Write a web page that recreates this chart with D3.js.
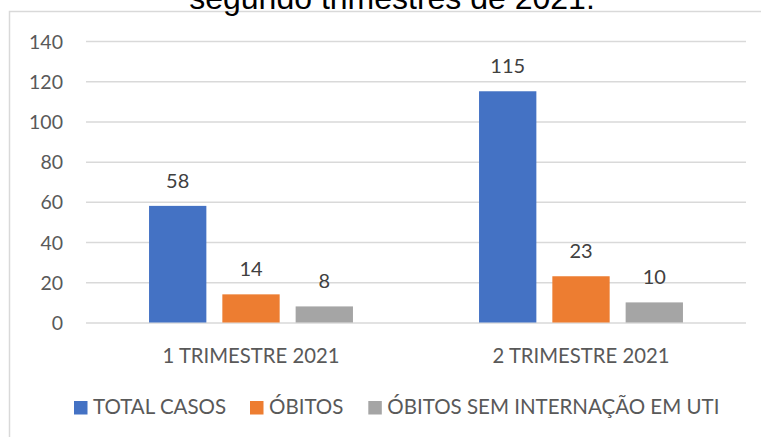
<!DOCTYPE html>
<html>
<head>
<meta charset="utf-8">
<script src="https://cdn.jsdelivr.net/npm/d3@7"></script>
<style>
  body { margin: 0; background: #fff; }
  svg { display: block; }
</style>
</head>
<body>
<div class="chart"></div>
<script>
var svgWidth = 761;
var svgHeight = 437;

// data
var categories = ["1 TRIMESTRE 2021", "2 TRIMESTRE 2021"];
var seriesNames = ["TOTAL CASOS", "ÓBITOS", "ÓBITOS SEM INTERNAÇÃO EM UTI"];
var totalCasos = [58, 115];
var obitos = [14, 23];
var obitosSemUti = [8, 10];
var yTicks = [0, 20, 40, 60, 80, 100, 120, 140];
var colors = ["#4472c4", "#ed7d31", "#a5a5a5"];

var seriesValues = [totalCasos, obitos, obitosSemUti];

var plot = { left: 86, right: 746, top: 41, bottom: 322.5 };

var svg = d3.select(".chart")
  .append("svg")
  .attr("width", svgWidth)
  .attr("height", svgHeight);

// chart frame (cropped on the right and bottom)
svg.append("rect")
  .attr("x", 9.5)
  .attr("y", 11.5)
  .attr("width", 800)
  .attr("height", 460)
  .attr("fill", "none")
  .attr("stroke", "#d9d9d9")
  .attr("stroke-width", 1.5);

// title (only the last line is visible, as in the original crop)
svg.append("text")
  .attr("x", 392)
  .attr("y", 9)
  .attr("text-anchor", "middle")
  .attr("font-family", "'Liberation Sans', Arial, sans-serif")
  .attr("font-size", 32)
  .attr("fill", "#000")
  .text("segundo trimestres de 2021.");

// scales
var yScale = d3.scaleLinear()
  .domain([0, 140])
  .range([plot.bottom, plot.top]);

var x0 = d3.scaleBand()
  .domain(categories)
  .range([plot.left, plot.right])
  .padding(0);

var x1 = d3.scaleBand()
  .domain(seriesNames)
  .range([0, x0.bandwidth()])
  .paddingInner(0.218)
  .paddingOuter(0.86);

// gridlines
var yAxis = d3.axisLeft(yScale)
  .tickValues(yTicks)
  .tickSize(-(plot.right - plot.left))
  .tickPadding(23);

var yAxisGroup = svg.append("g")
  .attr("transform", `translate(${plot.left}, 0)`)
  .call(yAxis);

yAxisGroup.select(".domain").remove();
yAxisGroup.selectAll(".tick line")
  .attr("stroke", "#d9d9d9")
  .attr("stroke-width", 1.5);
yAxisGroup.selectAll(".tick text")
  .attr("font-family", "Lato, sans-serif")
  .attr("font-size", 19.5)
  .attr("fill", "#595959")
  .attr("dy", "0.36em");

// bars
var groups = svg.selectAll(".group")
  .data(categories)
  .enter()
  .append("g")
  .attr("class", "group")
  .attr("transform", d => `translate(${x0(d)}, 0)`);

groups.selectAll("rect")
  .data((d, i) => seriesNames.map((s, j) => ({ series: s, value: seriesValues[j][i], color: colors[j] })))
  .enter()
  .append("rect")
  .attr("x", d => x1(d.series))
  .attr("y", d => yScale(d.value))
  .attr("width", x1.bandwidth())
  .attr("height", d => yScale(0) - yScale(d.value))
  .attr("fill", d => d.color);

// data labels
groups.selectAll(".label")
  .data((d, i) => seriesNames.map((s, j) => ({ series: s, value: seriesValues[j][i] })))
  .enter()
  .append("text")
  .attr("class", "label")
  .attr("x", d => x1(d.series) + x1.bandwidth() / 2)
  .attr("y", d => yScale(d.value) - 18)
  .attr("text-anchor", "middle")
  .attr("font-family", "Lato, sans-serif")
  .attr("font-size", 20)
  .attr("fill", "#404040")
  .text(d => d.value);

// category labels
svg.selectAll(".cat")
  .data(categories)
  .enter()
  .append("text")
  .attr("class", "cat")
  .attr("x", d => x0(d) + x0.bandwidth() / 2)
  .attr("y", plot.bottom + 40)
  .attr("text-anchor", "middle")
  .attr("font-family", "Lato, sans-serif")
  .attr("font-size", 20.3)
  .attr("fill", "#595959")
  .text(d => d);

// legend
var legendX = [74, 250, 368.3];
var legend = svg.selectAll(".legend")
  .data(seriesNames)
  .enter()
  .append("g")
  .attr("class", "legend")
  .attr("transform", (d, i) => `translate(${legendX[i]}, 401)`);

legend.append("rect")
  .attr("width", 13.5)
  .attr("height", 13.5)
  .attr("fill", (d, i) => colors[i]);

legend.append("text")
  .attr("x", 19)
  .attr("y", 13.3)
  .attr("font-family", "Lato, sans-serif")
  .attr("font-size", 20.5)
  .attr("fill", "#595959")
  .text(d => d);
</script>
</body>
</html>
